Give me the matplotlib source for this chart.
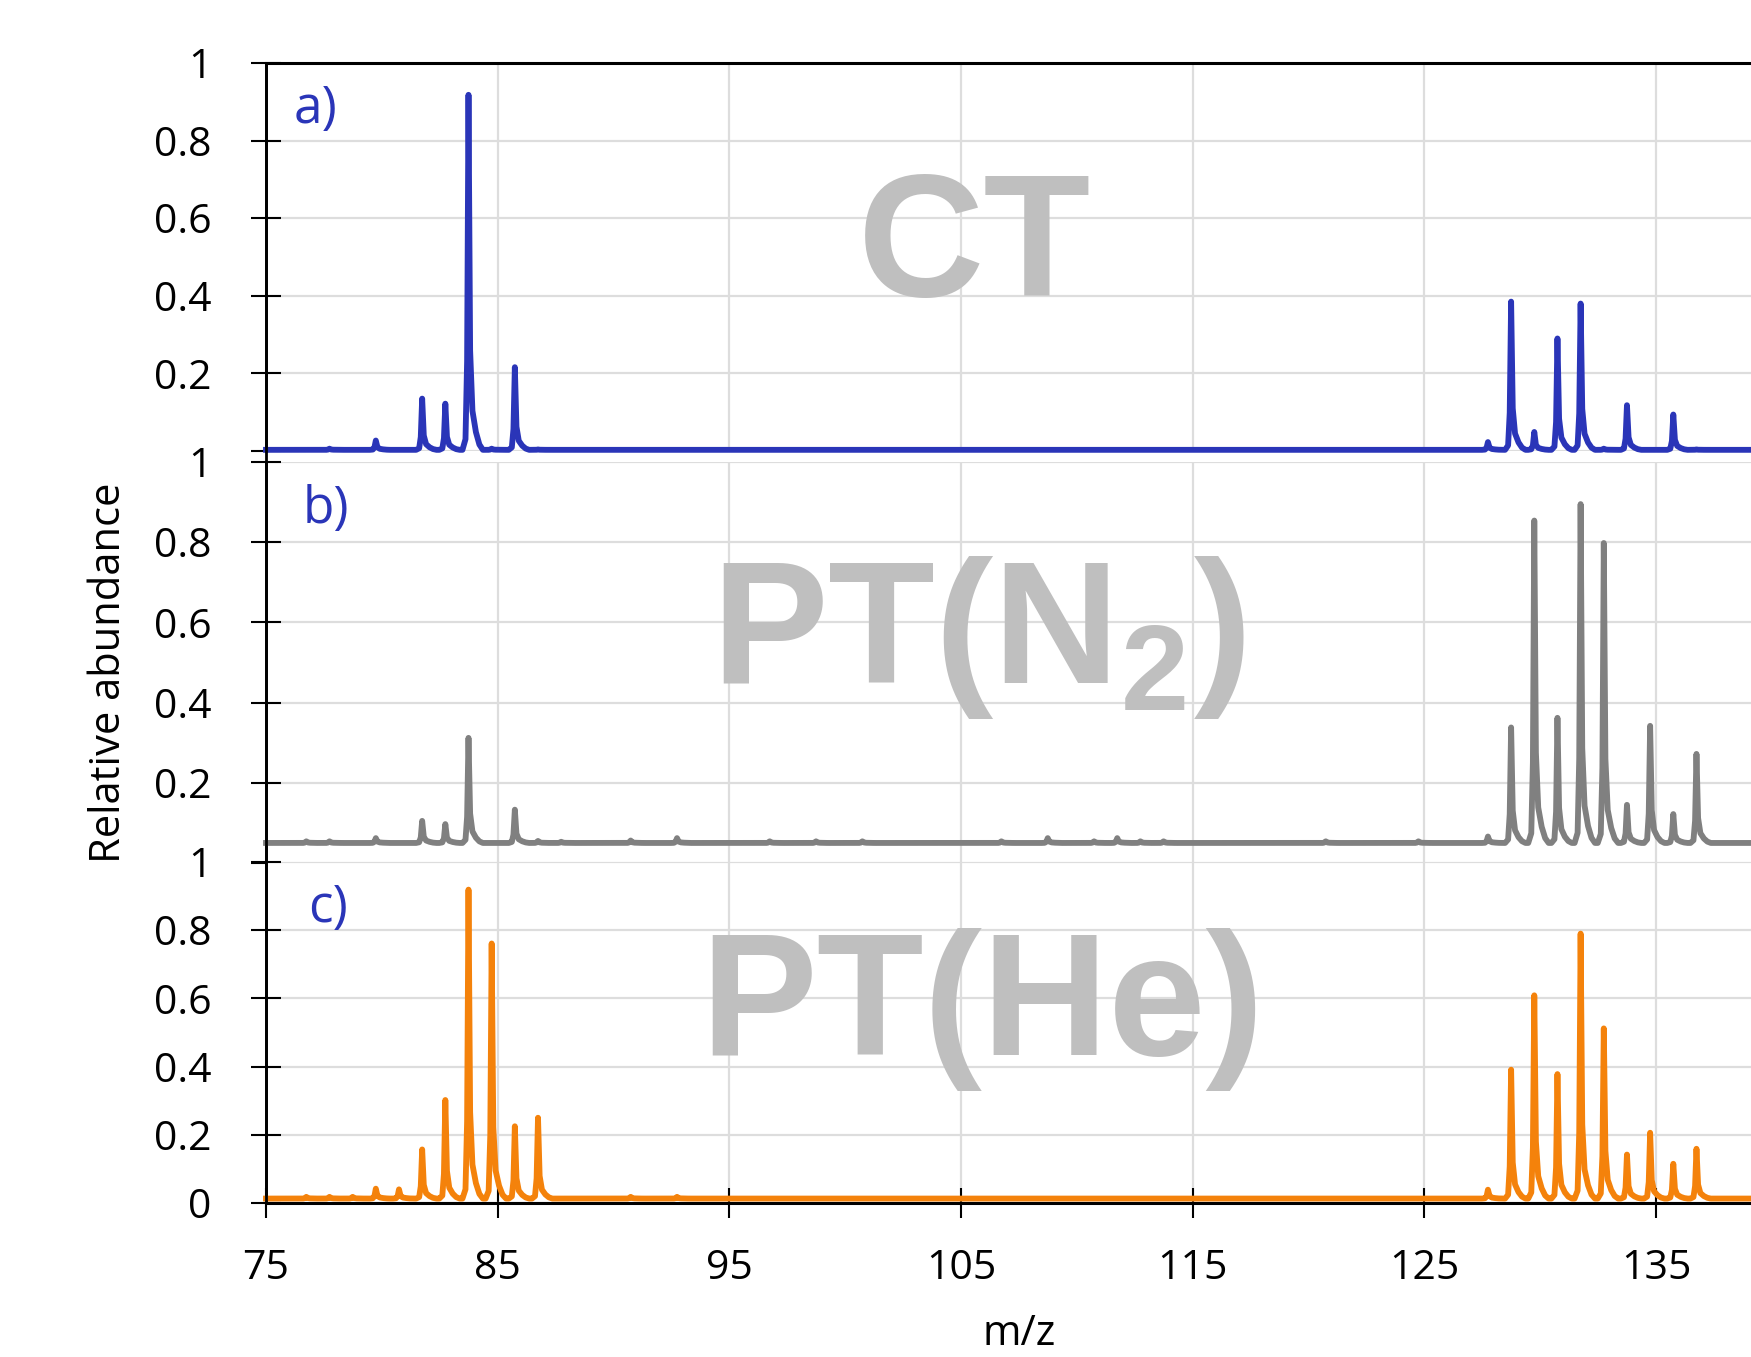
import matplotlib
matplotlib.use('Agg')
import matplotlib.pyplot as plt
from matplotlib.lines import Line2D
import numpy as np

plt.rcParams['font.family'] = 'Open Sans'
plt.rcParams['mathtext.fontset'] = 'custom'
plt.rcParams['mathtext.rm'] = 'Liberation Sans:bold'
plt.rcParams['mathtext.it'] = 'Liberation Sans:bold:italic'
plt.rcParams['mathtext.bf'] = 'Liberation Sans:bold'

# peak tables (nominal m/z, relative abundance at apex)
ct_mz = [78, 80, 82, 83, 84, 85, 86, 87, 128, 129, 130, 131, 132, 133, 134, 136, 137]
ct_ab = [0.006, 0.027, 0.135, 0.122, 0.918, 0.006, 0.216, 0.004,
         0.023, 0.385, 0.049, 0.290, 0.380, 0.006, 0.118, 0.094, 0.004]
ct_base = 0.003

n2_mz = [77, 78, 80, 82, 83, 84, 86, 87, 88, 91, 93, 97, 99, 101, 107, 109, 111,
         112, 113, 114, 121, 125, 128, 129, 130, 131, 132, 133, 134, 135, 136, 137]
n2_ab = [0.054, 0.054, 0.062, 0.105, 0.097, 0.312, 0.133, 0.055, 0.053, 0.056,
         0.062, 0.054, 0.054, 0.054, 0.054, 0.062, 0.054, 0.062, 0.054, 0.054,
         0.054, 0.054, 0.066, 0.338, 0.854, 0.362, 0.895, 0.798, 0.145, 0.342,
         0.122, 0.272]
n2_base = 0.05

he_mz = [77, 78, 79, 80, 81, 82, 83, 84, 85, 86, 87, 91, 93,
         128, 129, 130, 131, 132, 133, 134, 135, 136, 137]
he_ab = [0.018, 0.018, 0.018, 0.042, 0.040, 0.157, 0.302, 0.919, 0.761, 0.225,
         0.250, 0.018, 0.018, 0.039, 0.391, 0.609, 0.378, 0.790, 0.512, 0.142,
         0.206, 0.115, 0.159]
he_base = 0.013

panel_names = ['CT', r'PT(N$_2$)', 'PT(He)']
panel_tags = ['a)', 'b)', 'c)']
x_ticks = [75, 85, 95, 105, 115, 125, 135]
y_ticks = [0, 0.2, 0.4, 0.6, 0.8, 1]

# drawing of one peak (offset from apex, fraction of peak height)
APEX_SHIFT = -0.26
SHAPE_DX = [-0.26, -0.13, -0.06, 0.0, 0.07, 0.17, 0.32, 0.47, 0.62]
SHAPE_F = [0.0, 0.03, 0.25, 1.0, 0.28, 0.11, 0.05, 0.015, 0.0]


def trace(masses, heights, base):
    xs, ys = [75.0], [base]
    for m, h in sorted(zip(masses, heights)):
        for dx, f in zip(SHAPE_DX, SHAPE_F):
            xs.append(m + APEX_SHIFT + dx)
            ys.append(base + (h - base) * f)
    xs.append(140.0)
    ys.append(base)
    return np.array(xs), np.array(ys)


W, H = 1751, 1357
fig = plt.figure(figsize=(W / 100, H / 100), dpi=100)

left = 266 / W
width = 1506 / W
# (top, bottom) pixel rows of each panel
rows = [(63, 451), (462, 863), (862, 1203)]
colors = ['#2a35b8', '#808080', '#f4820b']
series = [(ct_mz, ct_ab, ct_base), (n2_mz, n2_ab, n2_base), (he_mz, he_ab, he_base)]
name_pos = [(105.56, 0.40), (105.73, 0.449), (105.9, 0.433)]
tag_pos = [(76.2, 0.845), (76.58, 0.848), (76.8, 0.824)]

axes = []
for i, (top, bot) in enumerate(rows):
    ax = fig.add_axes([left, 1 - bot / H, width, (bot - top) / H])
    axes.append(ax)
    ax.set_xlim(75, 140)
    ax.set_ylim(0, 1)
    ax.set_xticks(x_ticks)
    ax.set_yticks(y_ticks)
    ax.grid(True, color='#dddddd', linewidth=1.6)
    ax.set_axisbelow(True)
    for s in ['top', 'bottom', 'right']:
        ax.spines[s].set_visible(False)
    ax.spines['left'].set_linewidth(2.0)

    labels = ['0' if v == 0 else ('1' if v == 1 else '%.1f' % v) for v in y_ticks]
    if i < 2:
        labels[0] = ''
    ax.set_yticklabels(labels)
    ax.tick_params(axis='y', direction='inout', length=22, width=1.5,
                   pad=28, labelsize=29.5)
    if i < 2:
        ax.tick_params(axis='x', length=0, labelbottom=False)
    else:
        ax.spines['bottom'].set_visible(True)
        ax.spines['bottom'].set_linewidth(2.2)
        ax.tick_params(axis='x', direction='inout', length=22, width=1.5,
                       pad=22, labelsize=29.5)
    if i == 0:
        ax.spines['top'].set_visible(True)
        ax.spines['top'].set_linewidth(2.2)

    mz, ab, base = series[i]
    xs, ys = trace(mz, ab, base)
    ax.plot(xs, ys, color=colors[i], linewidth=4.2, solid_joinstyle='round',
            clip_on=False, zorder=3)

    ax.text(name_pos[i][0], name_pos[i][1], panel_names[i], ha='center',
            va='baseline', fontsize=126, color='#bfbfbf',
            family='Liberation Sans', weight='bold', zorder=2)
    ax.text(tag_pos[i][0], tag_pos[i][1], panel_tags[i], ha='left',
            va='baseline', fontsize=37, color='#2a35b8', zorder=4)

# continuous left axis line across the panel gap
fig.add_artist(Line2D([left, left], [1 - 1203 / H, 1 - 63 / H], color='black',
                      linewidth=2.0, transform=fig.transFigure))

fig.text(109 / W, 1 - 673 / H, 'Relative abundance', rotation=90,
         ha='center', va='center', fontsize=30)
fig.text(1019 / W, 1 - 1355 / H, 'm/z', ha='center', va='bottom', fontsize=30)

fig.savefig('out.png', dpi=100)
